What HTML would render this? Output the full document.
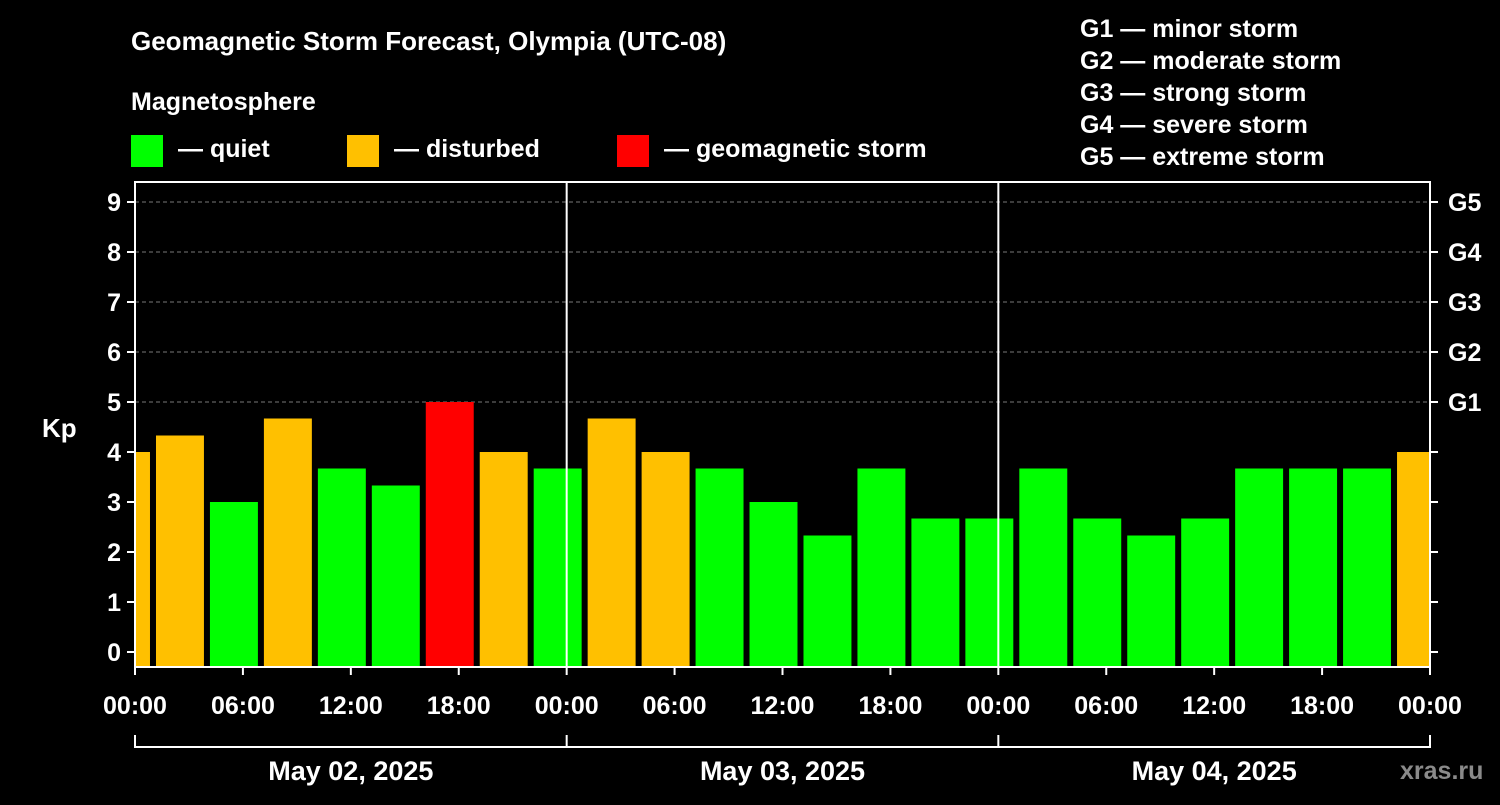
<!DOCTYPE html>
<html><head><meta charset="utf-8"><style>
body{margin:0;background:#000;width:1500px;height:800px;overflow:hidden;font-family:"Liberation Sans",sans-serif}
svg text{font-family:"Liberation Sans",sans-serif;font-weight:bold;fill:#fff}
</style></head><body>
<svg id="c" width="1500" height="800">
<text x="131" y="50" font-size="26">Geomagnetic Storm Forecast, Olympia (UTC-08)</text>
<text x="131" y="110" font-size="25">Magnetosphere</text>
<rect x="131" y="135" width="32" height="32" fill="#00ff00"/>
<text x="178" y="157" font-size="25">— quiet</text>
<rect x="347" y="135" width="32" height="32" fill="#ffc000"/>
<text x="394" y="157" font-size="25">— disturbed</text>
<rect x="617" y="135" width="32" height="32" fill="#ff0000"/>
<text x="664" y="157" font-size="25">— geomagnetic storm</text>
<g font-size="25">
<text x="1080" y="37">G1 — minor storm</text>
<text x="1080" y="69">G2 — moderate storm</text>
<text x="1080" y="101">G3 — strong storm</text>
<text x="1080" y="133">G4 — severe storm</text>
<text x="1080" y="165">G5 — extreme storm</text>
</g>
<text x="42" y="437" font-size="26">Kp</text>
<text x="1400" y="779" font-size="25" fill="#888" style="fill:#8a8a8a">xras.ru</text>
<g id="plot"></g>
</svg>
<script>
const values=[4.0,4.33,3.0,4.67,3.67,3.33,5.0,4.0,3.67,4.67,4.0,3.67,3.0,2.33,3.67,2.67,2.67,3.67,2.67,2.33,2.67,3.67,3.67,3.67,4.0];
const startHour=-0.5; // center of first bar (hours from May 02 00:00)
const dates=["May 02, 2025","May 03, 2025","May 04, 2025"];
const xTickLabels=["00:00","06:00","12:00","18:00"];
const gLabels=["G1","G2","G3","G4","G5"];
const NS="http://www.w3.org/2000/svg";
const L=135,R=1430,T=182,B=667;
const x=h=>L+h*(R-L)/72;
const y=k=>652-k*50;
const g=document.getElementById('plot');
function mk(t,a){const e=document.createElementNS(NS,t);for(const k in a)e.setAttribute(k,a[k]);g.appendChild(e);return e;}
// grid
for(let k=5;k<=9;k++){const e=mk('line',{x1:L,x2:R,y1:y(k),y2:y(k),stroke:'#777','stroke-dasharray':'4,3','stroke-width':1});

}
// clip
const cp=mk('clipPath',{id:'pc'});cp.appendChild(Object.assign(document.createElementNS(NS,'rect')));
cp.firstChild.setAttribute('x',L);cp.firstChild.setAttribute('y',T);cp.firstChild.setAttribute('width',R-L);cp.firstChild.setAttribute('height',B-T);
values.forEach((v,i)=>{const c=startHour+3*i;const x0=x(c-1.333),x1=x(c+1.333);
const col=v>=5?'#ff0000':v>=4?'#ffc000':'#00ff00';
const e=mk('rect',{x:x0,y:y(v),width:x1-x0,height:B-y(v),fill:col,'clip-path':'url(#pc)'});

});
// day separators
for(let d=1;d<3;d++){const e=mk('line',{x1:x(24*d),x2:x(24*d),y1:T,y2:B,stroke:'#fff','stroke-width':2});

}
const fr=mk('rect',{x:L,y:T,width:R-L,height:B-T,fill:'none',stroke:'#fff','stroke-width':2});


// y ticks
for(let k=0;k<=9;k++){
mk('line',{x1:L-8,x2:L,y1:y(k),y2:y(k),stroke:'#fff','stroke-width':2});
mk('line',{x1:R,x2:R+8,y1:y(k),y2:y(k),stroke:'#fff','stroke-width':2});
const t=mk('text',{x:L-14,y:y(k)+9,'text-anchor':'end','font-size':25});t.textContent=k;

}
gLabels.forEach((s,i)=>{const t=mk('text',{x:R+18,y:y(5+i)+9,'font-size':25});t.textContent=s;

});
// x ticks
for(let h=0;h<=72;h+=6){mk('line',{x1:x(h),x2:x(h),y1:B,y2:B+8,stroke:'#fff','stroke-width':2});
const t=mk('text',{x:x(h),y:B+47,'text-anchor':'middle','font-size':25});t.textContent=xTickLabels[(h/6)%4];

}
mk('line',{x1:L,x2:R,y1:747,y2:747,stroke:'#fff','stroke-width':2});
for(let d=0;d<=3;d++)mk('line',{x1:x(24*d),x2:x(24*d),y1:735,y2:748,stroke:'#fff','stroke-width':2});
dates.forEach((s,d)=>{const t=mk('text',{x:x(24*d+12),y:780,'text-anchor':'middle','font-size':27});t.textContent=s;

});
</script>
</body></html>
